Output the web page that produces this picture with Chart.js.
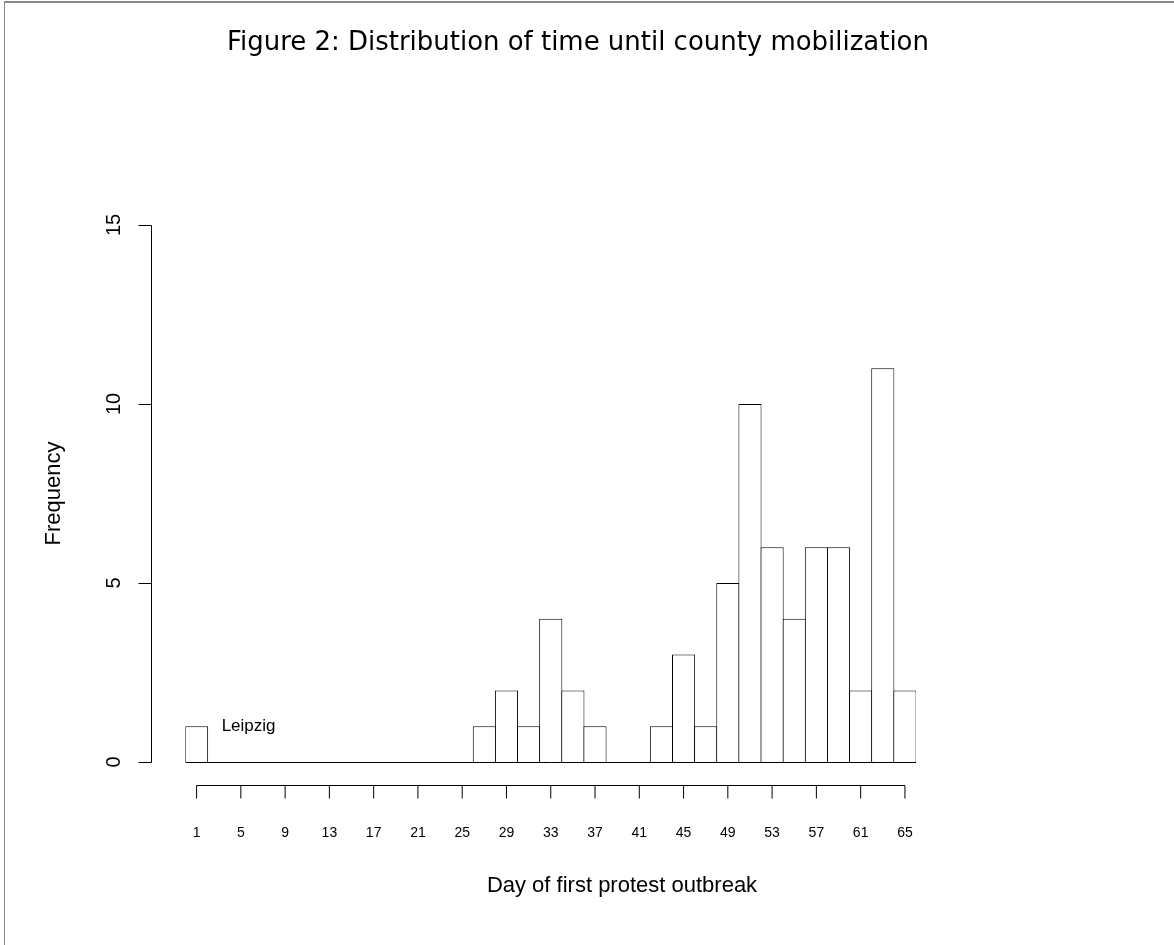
<!DOCTYPE html>
<html>
<head>
<meta charset="utf-8">
<script src="https://cdn.jsdelivr.net/npm/chart.js@4.4.0/dist/chart.umd.min.js"></script>
<style>
  html, body { margin: 0; padding: 0; background: #fff; }
  #wrap { position: relative; width: 1174px; height: 945px; overflow: hidden; }
  #frame { position: absolute; left: 4px; top: 1px; right: -10px; bottom: -10px;
           border-top: 2px solid #888; border-left: 1px solid #888; pointer-events: none; }
</style>
</head>
<body>
<div id="wrap">
  <canvas id="myChart" width="1174" height="945"></canvas>
  <div id="frame"></div>
</div>
<script>
// two-day bins, labelled by the day at their centre
var days = [1, 3, 5, 7, 9, 11, 13, 15, 17, 19, 21, 23, 25, 27, 29, 31, 33,
            35, 37, 39, 41, 43, 45, 47, 49, 51, 53, 55, 57, 59, 61, 63, 65];
// number of counties per bin
var counts = [1, 0, 0, 0, 0, 0, 0, 0, 0, 0, 0, 0, 0, 1, 2, 1, 4,
              2, 1, 0, 0, 1, 3, 1, 5, 10, 6, 4, 6, 6, 2, 11, 2];
// tick labels
var xTickDays = [1, 5, 9, 13, 17, 21, 25, 29, 33, 37, 41, 45, 49, 53, 57, 61, 65];
var yTicks = [0, 5, 10, 15];

var title = 'Figure 2: Distribution of time until county mobilization';
var xTitle = 'Day of first protest outbreak';
var yTitle = 'Frequency';
var note = { text: 'Leipzig', bin: 2.35, value: 1 };

// R-style detached axes, labels and the note
var rAxes = {
  id: 'rAxes',
  afterDatasetsDraw: function(chart) {
    var c = chart.ctx, x = chart.scales.x, y = chart.scales.y, area = chart.chartArea;
    c.save();
    c.strokeStyle = '#000';
    c.fillStyle = '#000';
    c.lineWidth = 1;

    // baseline (empty bins)
    var y0 = Math.round(y.getPixelForValue(0)) + 0.5;
    c.beginPath();
    c.moveTo(area.left, y0);
    c.lineTo(area.right, y0);
    c.stroke();

    // y axis
    var ax = Math.round(area.left) - 35 + 0.5;
    c.beginPath();
    c.moveTo(ax, Math.round(y.getPixelForValue(yTicks[0])) + 0.5);
    c.lineTo(ax, Math.round(y.getPixelForValue(yTicks[yTicks.length - 1])) + 0.5);
    yTicks.forEach(function(v) {
      var py = Math.round(y.getPixelForValue(v)) + 0.5;
      c.moveTo(ax, py);
      c.lineTo(ax - 13, py);
    });
    c.stroke();
    c.font = '20px "Liberation Sans"';
    c.textAlign = 'center';
    c.textBaseline = 'alphabetic';
    yTicks.forEach(function(v) {
      c.save();
      c.translate(ax - 32, y.getPixelForValue(v));
      c.rotate(-Math.PI / 2);
      c.fillText(String(v), 0, 0);
      c.restore();
    });

    // x axis
    var ay = y0 + 23;
    var first = x.getPixelForValue(days.indexOf(xTickDays[0]));
    var last = x.getPixelForValue(days.indexOf(xTickDays[xTickDays.length - 1]));
    c.beginPath();
    c.moveTo(first, ay);
    c.lineTo(last, ay);
    xTickDays.forEach(function(d) {
      var px = x.getPixelForValue(days.indexOf(d));
      c.moveTo(px, ay);
      c.lineTo(px, ay + 13);
    });
    c.stroke();
    c.font = '14px "Liberation Sans"';
    xTickDays.forEach(function(d) {
      c.fillText(String(d), x.getPixelForValue(days.indexOf(d)), ay + 51);
    });

    // axis titles
    c.font = '22px "Liberation Sans"';
    c.fillText(xTitle, 622, 892);
    c.save();
    c.translate(60, (area.top + area.bottom) / 2);
    c.rotate(-Math.PI / 2);
    c.fillText(yTitle, 0, 0);
    c.restore();

    // note
    c.font = '17px "Liberation Sans"';
    c.textBaseline = 'middle';
    c.fillText(note.text, x.getPixelForValue(note.bin), y.getPixelForValue(note.value));

    // caption
    c.font = '26px "DejaVu Sans"';
    var w = c.measureText(title).width;
    c.font = (26 * 702 / w).toFixed(2) + 'px "DejaVu Sans"';
    c.fillText(title, 578, 43);
    c.restore();
  }
};

var ctx = document.getElementById('myChart').getContext('2d');
var chart = new Chart(ctx, {
  type: 'bar',
  data: {
    labels: days,
    datasets: [{
      data: counts,
      backgroundColor: '#fff',
      borderColor: '#000',
      borderWidth: 1,
      borderSkipped: 'start',
      categoryPercentage: 1,
      barPercentage: 1.045
    }]
  },
  options: {
    responsive: false,
    animation: false,
    layout: { padding: { left: 185.5, right: 258, top: 225, bottom: 183 } },
    plugins: {
      legend: { display: false },
      tooltip: { enabled: false }
    },
    scales: {
      x: { display: false, offset: true },
      y: { display: false, min: 0, max: 15 }
    }
  },
  plugins: [rAxes]
});
</script>
</body>
</html>
